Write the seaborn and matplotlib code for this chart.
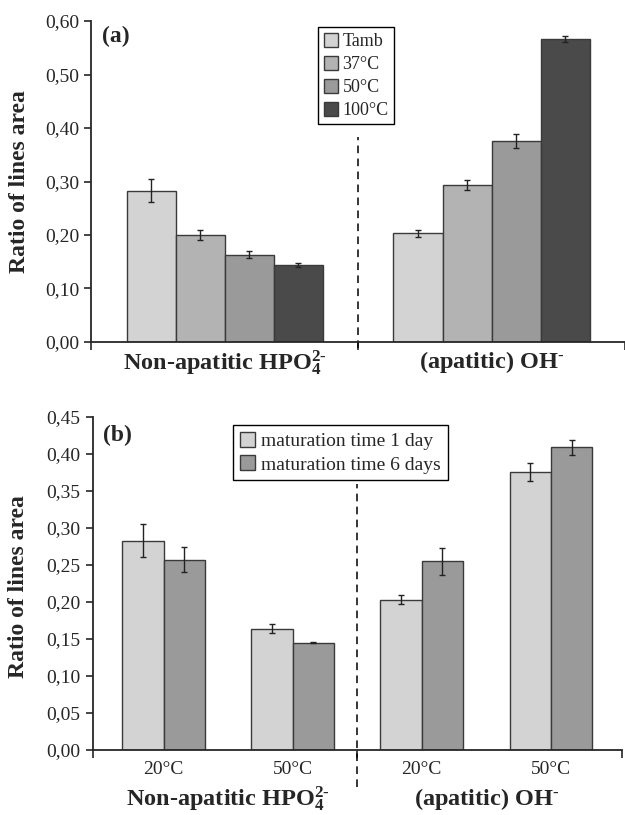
import matplotlib
matplotlib.use('Agg')
import matplotlib.pyplot as plt
import matplotlib.patches as mpatches
from matplotlib.ticker import FuncFormatter
import pandas as pd
import seaborn as sns

# ── Data: panel (a) ────────────────────────────────────────────────────────────
groups_a   = ['HPO4', 'OH']
temps_a    = ['Tamb', '37°C', '50°C', '100°C']
hpo4_a     = [0.283, 0.200, 0.163, 0.144]
hpo4_a_err = [0.022, 0.010, 0.0065, 0.0035]
oh_a       = [0.203, 0.294, 0.376, 0.566]
oh_a_err   = [0.006, 0.009, 0.0125, 0.006]
colors_a   = ['#d3d3d3', '#b3b3b3', '#9a9a9a', '#4a4a4a']

# ── Data: panel (b) ────────────────────────────────────────────────────────────
groups_b   = ['HPO4 20', 'HPO4 50', 'OH 20', 'OH 50']
ticks_b    = ['20°C', '50°C', '20°C', '50°C']
series_b   = ['maturation time 1 day', 'maturation time 6 days']
day1_b     = [0.283, 0.164, 0.203, 0.376]
day1_b_err = [0.022, 0.006, 0.006, 0.012]
day6_b     = [0.257, 0.145, 0.255, 0.409]
day6_b_err = [0.017, 0.001, 0.018, 0.010]
colors_b   = ['#d3d3d3', '#9a9a9a']

cat_labels = ['Non-apatitic HPO$_4^{2\\text{-}}$', '(apatitic) OH$^{\\text{-}}$']

sns.set_style('ticks')
plt.rcParams['font.family'] = ['Liberation Serif', 'DejaVu Serif']
plt.rcParams['mathtext.fontset'] = 'custom'
plt.rcParams['mathtext.rm'] = 'Liberation Serif:bold'
plt.rcParams['mathtext.it'] = 'Liberation Serif:bold'
plt.rcParams['mathtext.bf'] = 'Liberation Serif:bold'

EDGE = '#3a3a3a'
comma = FuncFormatter(lambda v, p: f'{v:.2f}'.replace('.', ','))

fig = plt.figure(figsize=(6.25, 8.15), dpi=100)
ax_a = fig.add_axes([0.146, 0.5804, 0.854, 0.3938])
ax_b = fig.add_axes([0.148, 0.0798, 0.847, 0.4085])


def style_axis(ax, ymax, step):
    for s in ['top', 'right']:
        ax.spines[s].set_visible(False)
    ax.spines['left'].set_linewidth(1.3)
    ax.spines['bottom'].set_linewidth(1.3)
    ax.set_ylim(0, ymax)
    ax.set_yticks([i * step for i in range(int(round(ymax / step)) + 1)])
    ax.yaxis.set_major_formatter(comma)
    ax.tick_params(axis='y', labelsize=14, length=5, width=1.2, direction='out')
    ax.tick_params(axis='x', which='major', length=6, width=1.2, direction='out')
    ax.tick_params(axis='x', which='minor', length=0)
    ax.set_xlabel('')
    ax.set_ylabel('Ratio of lines area', fontsize=17, fontweight='bold')


def add_errors(ax, err_lists):
    bar_groups = list(ax.containers)
    for cont, errs in zip(bar_groups, err_lists):
        for bar, e in zip(cont, errs):
            ax.errorbar(bar.get_x() + bar.get_width() / 2, bar.get_height(), yerr=e,
                        fmt='none', ecolor='#222222', elinewidth=1, capsize=2.5,
                        capthick=1)


# ── Panel (a) ──────────────────────────────────────────────────────────────────
df_a = pd.DataFrame({
    'group': groups_a * len(temps_a),
    'temp':  [t for t in temps_a for _ in groups_a],
    'ratio': [v for pair in zip(hpo4_a, oh_a) for v in pair],
})
sns.barplot(data=df_a, x='group', y='ratio', hue='temp', order=groups_a,
            hue_order=temps_a, palette=colors_a, width=0.735, errorbar=None,
            edgecolor=EDGE, linewidth=1, saturation=1, legend=False, ax=ax_a)
add_errors(ax_a, [[h, o] for h, o in zip(hpo4_a_err, oh_a_err)])

style_axis(ax_a, 0.60, 0.10)
ax_a.set_xlim(-0.5, 1.5)
ax_a.set_xticks([-0.5, 0.5, 1.5], labels=['', '', ''])
ax_a.set_xticks([0, 1], minor=True, labels=cat_labels)
ax_a.tick_params(axis='x', which='minor', labelsize=17.5, pad=5)
for lab in ax_a.get_xticklabels(minor=True):
    lab.set_fontweight('bold')
ax_a.yaxis.set_label_coords(-0.115, 0.5)
ax_a.axvline(0.5, ymin=-0.02, ymax=0.64, color='black', lw=1.1,
             ls=(0, (5, 3.5)), clip_on=False)
ax_a.text(0.02, 0.953, '(a)', transform=ax_a.transAxes, fontsize=17,
          fontweight='bold', va='center', ha='left')
handles_a = [mpatches.Patch(facecolor=c, edgecolor=EDGE, label=t)
             for c, t in zip(colors_a, temps_a)]
ax_a.legend(handles=handles_a, loc='upper left', bbox_to_anchor=(0.425, 0.98),
            fontsize=13, frameon=True, fancybox=False, edgecolor='black',
            framealpha=1, handlelength=0.8, handleheight=0.8, handletextpad=0.25,
            labelspacing=0.32, borderpad=0.3, borderaxespad=0)

# ── Panel (b) ──────────────────────────────────────────────────────────────────
df_b = pd.DataFrame({
    'group':  groups_b * 2,
    'series': [series_b[0]] * 4 + [series_b[1]] * 4,
    'ratio':  day1_b + day6_b,
})
sns.barplot(data=df_b, x='group', y='ratio', hue='series', order=groups_b,
            hue_order=series_b, palette=colors_b, width=0.64, errorbar=None,
            edgecolor=EDGE, linewidth=1, saturation=1, legend=False, ax=ax_b)
add_errors(ax_b, [day1_b_err, day6_b_err])

style_axis(ax_b, 0.45, 0.05)
ax_b.set_xlim(-0.55, 3.55)
ax_b.set_xticks([-0.55, 1.5, 3.55], labels=['', '', ''])
ax_b.set_xticks(range(len(ticks_b)), minor=True, labels=ticks_b)
ax_b.tick_params(axis='x', which='minor', labelsize=14, pad=8)
ax_b.yaxis.set_label_coords(-0.12, 0.49)
ax_b.axvline(1.5, ymin=-0.11, ymax=0.80, color='black', lw=1.1,
             ls=(0, (5, 3.5)), clip_on=False)
ax_b.text(0.02, 0.946, '(b)', transform=ax_b.transAxes, fontsize=17,
          fontweight='bold', va='center', ha='left')
for xc, lab in zip([0.5, 2.5], cat_labels):
    ax_b.text(xc, -0.148, lab, transform=ax_b.get_xaxis_transform(), fontsize=17.5,
              fontweight='bold', ha='center', va='center')
handles_b = [mpatches.Patch(facecolor=c, edgecolor=EDGE, label=s)
             for c, s in zip(colors_b, series_b)]
ax_b.legend(handles=handles_b, loc='upper left', bbox_to_anchor=(0.265, 0.976),
            fontsize=14, frameon=True, fancybox=False, edgecolor='black',
            framealpha=1, handlelength=0.8, handleheight=0.8, handletextpad=0.3,
            labelspacing=0.28, borderpad=0.35, borderaxespad=0)

fig.savefig('out.png', dpi=100)
plt.close(fig)
